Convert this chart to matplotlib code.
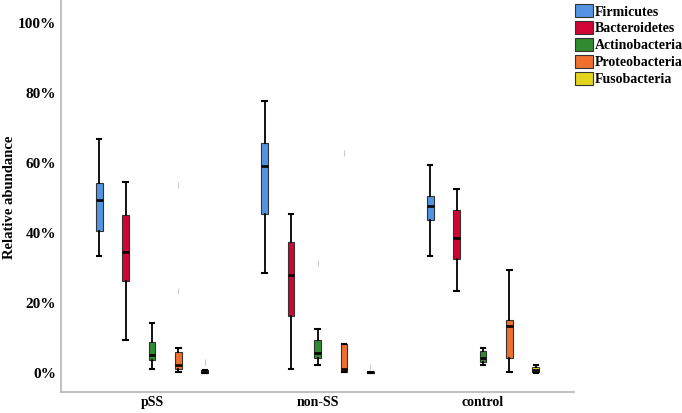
import matplotlib
matplotlib.use("Agg")
import matplotlib.pyplot as plt
from matplotlib.patches import Patch
from matplotlib.ticker import PercentFormatter

groups = ["pSS", "non-SS", "control"]
phyla = ["Firmicutes", "Bacteroidetes", "Actinobacteria", "Proteobacteria", "Fusobacteria"]
colors = ["#5294e2", "#d10434", "#2f8a30", "#f06f2e", "#e3d51c"]

# box stats in percent: [whislo, q1, med, q3, whishi], one row per phylum
pss_stats = [
    [33.4, 40.6, 49.5, 54.3, 66.9],
    [9.4, 26.4, 34.5, 45.1, 54.7],
    [1.1, 3.7, 5.3, 8.8, 14.4],
    [0.3, 1.1, 2.3, 5.9, 7.3],
    [0.0, 0.1, 0.4, 0.8, 1.0],
]
nonss_stats = [
    [28.5, 45.5, 59.2, 65.8, 77.7],
    [1.1, 16.3, 28.0, 37.5, 45.6],
    [2.3, 4.4, 5.8, 9.4, 12.5],
    [0.2, 0.2, 1.1, 8.3, 8.3],
    [0.0, 0.0, 0.2, 0.3, 0.3],
]
control_stats = [
    [33.5, 43.7, 47.7, 50.6, 59.6],
    [23.4, 32.5, 38.5, 46.6, 52.6],
    [2.3, 3.2, 4.4, 6.3, 7.3],
    [0.4, 4.2, 13.4, 15.3, 29.4],
    [0.1, 0.2, 0.9, 1.8, 2.3],
]
# faint outliers (percent), one list per phylum
pss_outliers = [[], [], [], [53.7, 23.5], [3.2]]
nonss_outliers = [[], [], [31.5], [62.8], [1.7]]
control_outliers = [[], [], [], [], []]

all_stats = [pss_stats, nonss_stats, control_stats]
all_outliers = [pss_outliers, nonss_outliers, control_outliers]

plt.rcParams["font.family"] = ["Liberation Serif", "DejaVu Serif"]

fig = plt.figure(figsize=(6.82, 4.13), dpi=100)
ax = fig.add_axes([61 / 682, 21 / 413, (574 - 61) / 682, 392 / 413])

offset = 0.16
width = 0.042
for gi, (stats, outs) in enumerate(zip(all_stats, all_outliers)):
    for pj, (s, o) in enumerate(zip(stats, outs)):
        pos = gi + (pj - 2) * offset
        bstat = dict(whislo=s[0] / 100, q1=s[1] / 100, med=s[2] / 100,
                     q3=s[3] / 100, whishi=s[4] / 100,
                     fliers=[v / 100 for v in o])
        ax.bxp([bstat], positions=[pos], widths=width, patch_artist=True,
               showfliers=True,
               boxprops=dict(facecolor=colors[pj], edgecolor="#333333", linewidth=0.8),
               medianprops=dict(color="black", linewidth=1.9),
               whiskerprops=dict(color="black", linewidth=1.3),
               capprops=dict(color="black", linewidth=1.5),
               capwidths=0.025,
               flierprops=dict(marker="|", markeredgecolor="#c9c9c9",
                               markersize=4, markeredgewidth=0.8))

ax.set_xlim(-0.55, 2.55)
ax.set_ylim(-0.054, 1.066)
ax.set_xticks(range(len(groups)))
ax.set_xticklabels(groups)
ax.set_yticks([0, 0.2, 0.4, 0.6, 0.8, 1.0])
ax.yaxis.set_major_formatter(PercentFormatter(1.0, decimals=0))
ax.tick_params(axis="y", length=0, labelsize=11)
ax.tick_params(axis="x", length=0, labelsize=10, pad=3)
for lab in ax.get_xticklabels() + ax.get_yticklabels():
    lab.set_fontweight("bold")

for side in ["top", "right"]:
    ax.spines[side].set_visible(False)
for side in ["left", "bottom"]:
    ax.spines[side].set_color("#b5b5b5")
    ax.spines[side].set_linewidth(1.2)

fig.text(10 / 682, 0.523, "Relative abundance", rotation=90, ha="center",
         va="center", fontsize=10.5, fontweight="bold")

handles = [Patch(facecolor=c, edgecolor="#333333", linewidth=0.8) for c in colors]
fig.legend(handles, phyla, loc="upper left", bbox_to_anchor=(0.84, 0.995),
           frameon=False, handlelength=1.3, handleheight=1.1, handletextpad=0.15,
           labelspacing=0.18, borderaxespad=0, borderpad=0.15,
           prop=dict(size=10, weight="bold"))

fig.savefig("out.png", dpi=100)
